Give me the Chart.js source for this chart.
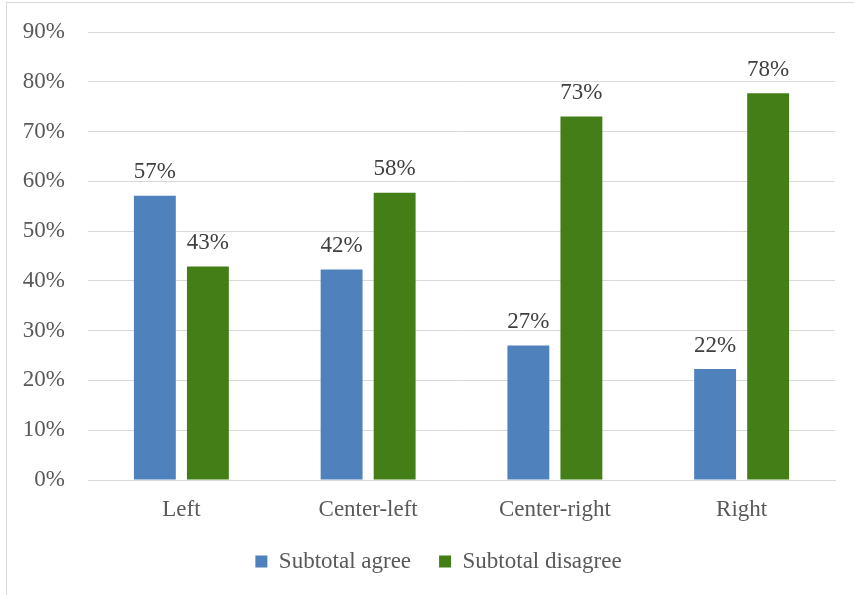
<!DOCTYPE html>
<html>
<head>
<meta charset="utf-8">
<script src="https://cdn.jsdelivr.net/npm/chart.js@4/dist/chart.umd.min.js"></script>
<style>
  html, body { margin: 0; padding: 0; background: #fff; overflow: hidden; }
  #frame { position: absolute; left: 6px; top: 2px; width: 1000px; height: 800px;
           border-left: 1px solid #d9d9d9; border-top: 1px solid #d9d9d9; }
  #wrap { position: absolute; left: 0; top: 0; width: 854px; height: 595px; }
</style>
</head>
<body>
<div id="frame"></div>
<div id="wrap"><canvas id="c" width="854" height="595"></canvas></div>
<script>
const categories = ["Left", "Center-left", "Center-right", "Right"];
const seriesNames = ["Subtotal agree", "Subtotal disagree"];
const agreeValues = [57.1, 42.3, 27.0, 22.3];
const disagreeValues = [42.9, 57.7, 73.0, 77.7];
const yTickValues = [0, 10, 20, 30, 40, 50, 60, 70, 80, 90];

const FONT = "'Liberation Serif', 'Times New Roman', serif";
const FS = 23;

const dataLabels = {
  id: 'dataLabels',
  afterDatasetsDraw(chart) {
    const ctx = chart.ctx;
    ctx.save();
    ctx.font = FS + "px " + FONT;
    ctx.fillStyle = '#404040';
    ctx.textAlign = 'center';
    ctx.textBaseline = 'bottom';
    chart.data.datasets.forEach((ds, i) => {
      const meta = chart.getDatasetMeta(i);
      meta.data.forEach((bar, j) => {
        ctx.fillText(Math.round(ds.data[j]) + '%', bar.x, bar.y - 12);
      });
    });
    ctx.restore();
  }
};

const legendShift = {
  id: 'legendShift',
  afterLayout(chart) {
    if (chart.legend) {
      chart.legend.left += 21;
      chart.legend.right += 21;
    }
  }
};

new Chart(document.getElementById('c'), {
  type: 'bar',
  data: {
    labels: categories,
    datasets: [
      { label: seriesNames[0], data: agreeValues, backgroundColor: '#4F81BD' },
      { label: seriesNames[1], data: disagreeValues, backgroundColor: '#437E16' }
    ]
  },
  options: {
    responsive: false,
    animation: false,
    layout: { padding: { left: 0, right: 19, top: 32, bottom: 12 } },
    datasets: { bar: { categoryPercentage: 0.568, barPercentage: 0.79 } },
    scales: {
      x: {
        grid: { display: false, drawTicks: false },
        border: { display: true, color: '#d9d9d9', width: 1 },
        ticks: { font: { family: FONT, size: FS }, color: '#595959', padding: 16 },
        afterFit(s) { s.height = 42; s.paddingLeft = 0; s.paddingRight = 0; }
      },
      y: {
        min: 0, max: 90,
        afterBuildTicks(s) { s.ticks = yTickValues.map(v => ({ value: v })); },
        grid: { color: '#d9d9d9', lineWidth: 1, drawTicks: false },
        border: { display: false },
        ticks: {
          font: { family: FONT, size: FS }, color: '#595959', padding: 23,
          callback: v => v + '%'
        },
        afterFit(s) { s.width = 88; s.paddingTop = 0; s.paddingBottom = 0; }
      }
    },
    plugins: {
      legend: {
        position: 'bottom',
        labels: {
          font: { family: FONT, size: FS }, color: '#595959',
          boxWidth: 12, boxHeight: 12, padding: 28
        }
      },
      tooltip: { enabled: false }
    }
  },
  plugins: [dataLabels, legendShift]
});
</script>
</body>
</html>
